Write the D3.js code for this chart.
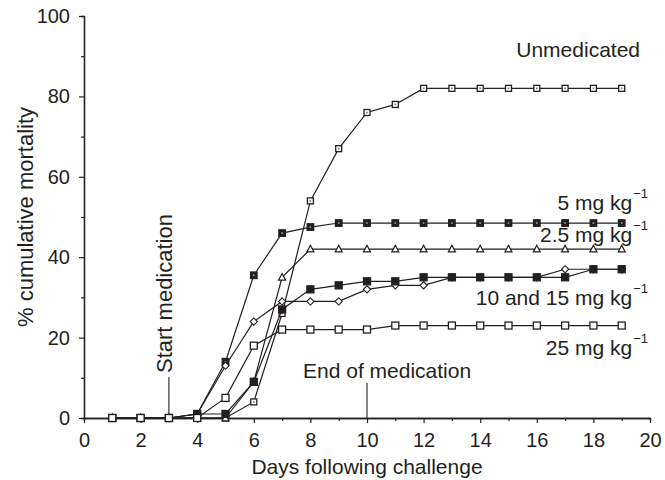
<!DOCTYPE html>
<html>
<head>
<meta charset="utf-8">
<script src="https://cdn.jsdelivr.net/npm/d3@7"></script>
<style>
  body { margin: 0; background: #fff; }
  svg text { font-family: "Liberation Sans", Arial, sans-serif; fill: #231f20; }
</style>
</head>
<body>
<svg id="chart"></svg>
<script>
const width = 665;
const height = 480;

// days after challenge
const days = [1, 2, 3, 4, 5, 6, 7, 8, 9, 10, 11, 12, 13, 14, 15, 16, 17, 18, 19];

// % cumulative mortality per group
const unmedicated = [0, 0, 0, 0, 0, 4, 26, 54, 67, 76, 78, 82, 82, 82, 82, 82, 82, 82, 82];
const dose2_5 = [0, 0, 0, 0, 0, 9, 35, 42, 42, 42, 42, 42, 42, 42, 42, 42, 42, 42, 42];
const dose5 = [0, 0, 0, 1, 14, 35.5, 46, 47.5, 48.5, 48.5, 48.5, 48.5, 48.5, 48.5, 48.5, 48.5, 48.5, 48.5, 48.5];
const dose15 = [0, 0, 0, 1, 13, 24, 29, 29, 29, 32, 33, 33, 35, 35, 35, 35, 37, 37, 37];
const dose10 = [0, 0, 0, 1, 1, 9, 27, 32, 33, 34, 34, 35, 35, 35, 35, 35, 35, 37, 37];
const dose25 = [0, 0, 0, 0, 5, 18, 22, 22, 22, 22, 23, 23, 23, 23, 23, 23, 23, 23, 23];

const xMajor = [0, 2, 4, 6, 8, 10, 12, 14, 16, 18, 20];
const xMinor = [1, 3, 5, 7, 9, 11, 13, 15, 17, 19];
const yMajor = [0, 20, 40, 60, 80, 100];
const yMinor = [10, 30, 50, 70, 90];

const startMed = 3;
const endMed = 10;

const ink = "#231f20";

const svg = d3.select("#chart")
    .attr("width", width)
    .attr("height", height);

const x = d3.scaleLinear().domain([0, 20]).range([84, 650]);
const y = d3.scaleLinear().domain([0, 100]).range([418, 16]);

function styleAxis(g, labels) {
    g.select(".domain").attr("stroke", ink).attr("stroke-width", 1.3);
    g.selectAll(".tick line").attr("stroke", ink).attr("stroke-width", 1.2);
    g.selectAll(".tick text").style("font-size", labels ? "20px" : "0px");
}

// x axis
svg.append("g")
    .attr("transform", `translate(0,${y(0)})`)
    .call(d3.axisBottom(x).tickValues(xMinor).tickSize(3).tickFormat(""))
    .call(g => styleAxis(g, false));
svg.append("g")
    .attr("transform", `translate(0,${y(0)})`)
    .call(d3.axisBottom(x).tickValues(xMajor).tickSize(5).tickPadding(10).tickSizeOuter(0))
    .call(g => styleAxis(g, true));

// y axis
svg.append("g")
    .attr("transform", `translate(${x(0)},0)`)
    .call(d3.axisLeft(y).tickValues(yMinor).tickSize(3).tickFormat(""))
    .call(g => styleAxis(g, false));
svg.append("g")
    .attr("transform", `translate(${x(0)},0)`)
    .call(d3.axisLeft(y).tickValues(yMajor).tickSize(5).tickPadding(9).tickSizeOuter(0))
    .call(g => styleAxis(g, true));

svg.append("text")
    .attr("x", x(10))
    .attr("y", 474)
    .attr("text-anchor", "middle")
    .style("font-size", "21px")
    .text("Days following challenge");

svg.append("text")
    .attr("transform", `translate(33,${(y(0) + y(100)) / 2}) rotate(-90)`)
    .attr("text-anchor", "middle")
    .style("font-size", "22px")
    .text("% cumulative mortality");

// medication markers
svg.append("line")
    .attr("x1", x(startMed)).attr("x2", x(startMed))
    .attr("y1", y(0)).attr("y2", 377)
    .attr("stroke", ink).attr("stroke-width", 1.1);
svg.append("text")
    .attr("transform", `translate(${x(startMed) + 3},373) rotate(-90)`)
    .style("font-size", "22px")
    .text("Start medication");

svg.append("line")
    .attr("x1", x(endMed)).attr("x2", x(endMed))
    .attr("y1", y(0)).attr("y2", 383)
    .attr("stroke", ink).attr("stroke-width", 1.1);
svg.append("text")
    .attr("x", x(endMed) - 64)
    .attr("y", 378)
    .style("font-size", "21px")
    .text("End of medication");

const line = d3.line()
    .x((d, i) => x(days[i]))
    .y(d => y(d));

function drawSeries(values, marker) {
    svg.append("path")
        .datum(values)
        .attr("d", line)
        .attr("fill", "none")
        .attr("stroke", ink)
        .attr("stroke-width", 1.2);
    const g = svg.append("g");
    values.forEach((v, i) => marker(g, x(days[i]), y(v)));
}

function square(size, fill, dot) {
    return (g, cx, cy) => {
        g.append("rect")
            .attr("x", cx - size / 2).attr("y", cy - size / 2)
            .attr("width", size).attr("height", size)
            .attr("fill", fill)
            .attr("stroke", ink).attr("stroke-width", 1.3);
        if (dot) {
            g.append("rect")
                .attr("x", cx - 0.8).attr("y", cy - 0.8)
                .attr("width", 1.6).attr("height", 1.6)
                .attr("fill", dot);
        }
    };
}

function triangle(g, cx, cy) {
    const s = 7;
    g.append("path")
        .attr("d", `M${cx},${cy - s * 0.55}L${cx + s / 2},${cy + s * 0.4}L${cx - s / 2},${cy + s * 0.4}Z`)
        .attr("fill", "#fff")
        .attr("stroke", ink).attr("stroke-width", 1.2);
}

function diamond(g, cx, cy) {
    const s = 3.6;
    g.append("path")
        .attr("d", `M${cx},${cy - s}L${cx + s},${cy}L${cx},${cy + s}L${cx - s},${cy}Z`)
        .attr("fill", "#fff")
        .attr("stroke", ink).attr("stroke-width", 1.1);
}

drawSeries(unmedicated, square(6, "#fff", "#777"));
drawSeries(dose2_5, triangle);
drawSeries(dose5, square(6.5, ink, "#999"));
drawSeries(dose15, diamond);
drawSeries(dose10, square(7, ink, null));
drawSeries(dose25, square(7, "#fff", null));

// series labels
function doseLabel(txt, xr, yb) {
    const t = svg.append("text")
        .attr("x", xr)
        .attr("y", yb)
        .attr("text-anchor", "end")
        .style("font-size", "21px");
    t.append("tspan").text(txt);
    t.append("tspan")
        .attr("dy", -12)
        .attr("dx", 1)
        .style("font-size", "13px")
        .text("\u22121");
}

svg.append("text")
    .attr("x", 640)
    .attr("y", 57)
    .attr("text-anchor", "end")
    .style("font-size", "21px")
    .text("Unmedicated");

doseLabel("5 mg kg", 648, 210);
doseLabel("2.5 mg kg", 648, 242);
doseLabel("10 and 15 mg kg", 648, 305);
doseLabel("25 mg kg", 648, 355);
</script>
</body>
</html>
